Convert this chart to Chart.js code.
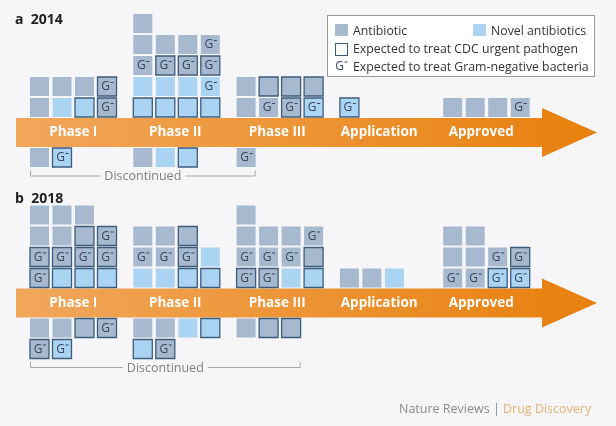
<!DOCTYPE html>
<html>
<head>
<meta charset="UTF-8">
<title>Antibiotic pipeline 2014 / 2018</title>
<style>
  html, body { margin: 0; padding: 0; background: #f6f6f8; }
  #chart { display: block; }
</style>
</head>
<body>
<canvas id="chart" width="616" height="426"></canvas>
<script src="https://cdn.jsdelivr.net/npm/chart.js"></script>
<script>
const phases = ['Phase I', 'Phase II', 'Phase III', 'Application', 'Approved'];
const panelTitles = ['a  2014', 'b  2018'];
// a = antibiotic, n = novel antibiotic, b = expected to treat CDC urgent pathogen, g = Gram-negative
// one list per phase, rows listed from the arrow outward
const above2014 = [
  [['a', 'n', 'nb', 'abg'], ['a', 'a', 'a', 'abg']],
  [['nb', 'nb', 'nb', 'nb'], ['n', 'n', 'n', 'ng'], ['ag', 'abg', 'abg', 'abg'], ['a', 'a', 'a', 'ag'], ['a']],
  [['a', 'ag', 'abg', 'nbg'], ['a', 'ab', 'ab', 'ab']],
  [['nbg']],
  [['a', 'a', 'a', 'ag']]
];
const below2014 = [
  [['a', 'nbg']],
  [['a', 'n', 'nb']],
  [['ag']],
  [],
  []
];
const above2018 = [
  [['abg', 'nb', 'nb', 'nb'], ['abg', 'abg', 'abg', 'abg'], ['a', 'a', 'ab', 'abg'], ['a', 'a', 'a']],
  [['n', 'n', 'nb', 'nb'], ['ag', 'ag', 'abg', 'n'], ['a', 'a', 'ab']],
  [['abg', 'abg', 'n', 'nb'], ['ag', 'ag', 'ag', 'ab'], ['a', 'a', 'a', 'ag'], ['a']],
  [['a', 'a', 'n']],
  [['ag', 'ag', 'nbg', 'nbg'], ['a', 'a', 'ag', 'abg'], ['a', 'a']]
];
const below2018 = [
  [['a', 'a', 'ab', 'abg'], ['abg', 'nbg']],
  [['a', 'a', 'n', 'nb'], ['nb', 'abg']],
  [['a', 'ab', 'ab']],
  [],
  []
];
// phases covered by the "Discontinued" bracket in each panel
const discontinuedUpTo = [2, 2];

const COL_W = 22.5, GROUP_W = 103.3, ROW_H = 21, FIRST_ROW = 25;
const bandY = [132.5, 303];
const antibioticColor = '#a7b9cf';
const novelColor = '#abd3f2';
const edgeColor = '#3c5c7e';

function colX(g, c) { return 39.5 + g * GROUP_W + c * COL_W; }
function rowY(panel, k) {
  const s = k > 0 ? -1 : 1;
  return bandY[panel] + s * (FIRST_ROW + (Math.abs(k) - 1) * ROW_H);
}

function buildPoints(above, below, panel) {
  const pts = [];
  above.forEach((rows, g) => rows.forEach((row, r) => row.forEach((code, c) => {
    pts.push({ x: colX(g, c), y: rowY(panel, r + 1), code });
  })));
  below.forEach((rows, g) => rows.forEach((row, r) => row.forEach((code, c) => {
    pts.push({ x: colX(g, c), y: rowY(panel, -(r + 1)), code });
  })));
  return pts;
}

const cellStyle = {
  pointStyle: 'rect',
  pointRadius: 19 / (2 * Math.SQRT1_2),
  pointHoverRadius: 19 / (2 * Math.SQRT1_2),
  backgroundColor: ctx => ctx.raw && ctx.raw.code[0] === 'n' ? novelColor : antibioticColor,
  borderColor: edgeColor,
  borderWidth: ctx => ctx.raw && ctx.raw.code.includes('b') ? 1.3 : 0,
  showLine: false,
  clip: false
};

function drawGneg(ctx, x, y, size) {
  ctx.save();
  ctx.fillStyle = '#34475d';
  ctx.font = size + 'px "Open Sans"';
  ctx.textAlign = 'center';
  ctx.textBaseline = 'middle';
  ctx.fillText('G', x - 1.5, y + 0.5);
  ctx.fillRect(x + 3.5, y - 4.5, 3, 1);
  ctx.restore();
}

const artwork = {
  id: 'artwork',
  beforeDatasetsDraw(chart) {
    const { ctx, scales: { x, y } } = chart;
    ctx.save();
    ctx.fillStyle = '#f6f6f8';
    ctx.fillRect(0, 0, chart.width, chart.height);

    bandY.forEach((by, p) => {
      const cy = y.getPixelForValue(by);
      const x0 = x.getPixelForValue(16), x1 = x.getPixelForValue(542), x2 = x.getPixelForValue(597);
      const grad = ctx.createLinearGradient(x0, 0, x2, 0);
      grad.addColorStop(0, '#f1a75c');
      grad.addColorStop(1, '#e8800c');
      ctx.fillStyle = grad;
      ctx.beginPath();
      ctx.moveTo(x0, cy - 14.5);
      ctx.lineTo(x1, cy - 14.5);
      ctx.lineTo(x1, cy - 24.5);
      ctx.lineTo(x2, cy);
      ctx.lineTo(x1, cy + 24.5);
      ctx.lineTo(x1, cy + 14.5);
      ctx.lineTo(x0, cy + 14.5);
      ctx.closePath();
      ctx.fill();

      ctx.fillStyle = '#ffffff';
      ctx.font = 'bold 13.5px "Open Sans"';
      ctx.textAlign = 'center';
      ctx.textBaseline = 'middle';
      phases.forEach((name, g) => {
        ctx.fillText(name, x.getPixelForValue(colX(g, 1.5) - g * 1.3), cy);
      });

      ctx.fillStyle = '#222222';
      ctx.font = 'bold 14px "Open Sans"';
      ctx.textAlign = 'left';
      ctx.textBaseline = 'alphabetic';
      ctx.fillText(panelTitles[p], 15, p === 0 ? 24 : 203);

      // discontinued bracket
      const nBelow = p === 0 ? 1 : 2;
      const ly = y.getPixelForValue(rowY(p, -nBelow) + 18);
      const lx0 = x.getPixelForValue(colX(0, 0) - 9.5);
      const lx1 = x.getPixelForValue(colX(discontinuedUpTo[p], p === 0 ? 0 : 2) + 9.5);
      const mid = (lx0 + lx1) / 2;
      ctx.font = '12.5px "Open Sans"';
      ctx.textAlign = 'center';
      const tw = ctx.measureText('Discontinued').width;
      ctx.strokeStyle = '#a8a8a8';
      ctx.lineWidth = 1;
      ctx.beginPath();
      ctx.moveTo(lx0 + 0.5, ly - 5);
      ctx.lineTo(lx0 + 0.5, ly + 0.5);
      ctx.lineTo(mid - tw / 2 - 4, ly + 0.5);
      ctx.moveTo(mid + tw / 2 + 4, ly + 0.5);
      ctx.lineTo(lx1 - 0.5, ly + 0.5);
      ctx.lineTo(lx1 - 0.5, ly - 5);
      ctx.stroke();
      ctx.fillStyle = '#808080';
      ctx.textBaseline = 'middle';
      ctx.fillText('Discontinued', mid, ly + 1);
    });

    // legend box
    ctx.fillStyle = '#ffffff';
    ctx.fillRect(327, 15, 268, 62);
    ctx.strokeStyle = '#9a9a9a';
    ctx.lineWidth = 1;
    ctx.strokeRect(327.5, 15.5, 267, 61);
    ctx.fillStyle = antibioticColor;
    ctx.fillRect(335, 24, 13, 12);
    ctx.fillStyle = novelColor;
    ctx.fillRect(473, 24, 13, 12);
    ctx.strokeStyle = '#3c5c7e';
    ctx.strokeRect(335.5, 43.5, 12, 12);
    drawGneg(ctx, 341, 66, 12);
    ctx.fillStyle = '#333333';
    ctx.font = '12.3px "Open Sans"';
    ctx.textAlign = 'left';
    ctx.textBaseline = 'alphabetic';
    ctx.fillText('Antibiotic', 353, 35);
    ctx.fillText('Novel antibiotics', 491, 35);
    ctx.fillText('Expected to treat CDC urgent pathogen', 353, 53);
    ctx.fillText('Expected to treat Gram-negative bacteria', 353, 71);

    // footer
    ctx.font = '12.5px "Open Sans"';
    ctx.fillStyle = '#8c8c8c';
    const s1 = 'Nature Reviews | ';
    ctx.fillText(s1, 399, 413);
    ctx.fillStyle = '#e8b272';
    ctx.fillText('Drug Discovery', 399 + ctx.measureText(s1).width, 413);
    ctx.restore();
  },
  afterDatasetsDraw(chart) {
    chart.data.datasets.forEach((ds, i) => {
      const meta = chart.getDatasetMeta(i);
      meta.data.forEach((pt, j) => {
        if (ds.data[j].code.includes('g')) drawGneg(chart.ctx, pt.x, pt.y, 12);
      });
    });
  }
};

new Chart(document.getElementById('chart'), {
  type: 'scatter',
  data: {
    datasets: [
      Object.assign({ label: '2014', data: buildPoints(above2014, below2014, 0) }, cellStyle),
      Object.assign({ label: '2018', data: buildPoints(above2018, below2018, 1) }, cellStyle)
    ]
  },
  options: {
    responsive: false,
    animation: false,
    events: [],
    layout: { padding: 0, autoPadding: false },
    scales: {
      x: { type: 'linear', min: 0, max: 616, display: false },
      y: { type: 'linear', min: 0, max: 426, reverse: true, display: false }
    },
    plugins: { legend: { display: false }, tooltip: { enabled: false } }
  },
  plugins: [artwork]
});
</script>
</body>
</html>
